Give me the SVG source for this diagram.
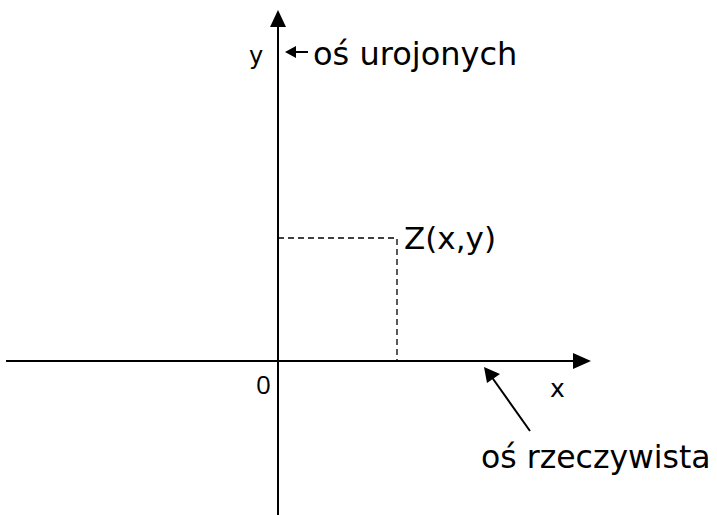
<svg xmlns="http://www.w3.org/2000/svg" width="717" height="515" viewBox="0 0 717 515">
<style>
.ax{stroke:#000;stroke-width:2;fill:none}
.dash{stroke:#000;stroke-width:1.3;fill:none;stroke-dasharray:6,4}
.t{font-family:"DejaVu Sans",Verdana,sans-serif;fill:#000}
.c{font-family:"Open Sans","Liberation Sans",sans-serif;fill:#000}
</style>
<rect width="717" height="515" fill="#fff"/>
<g id="connectors">
<line class="ax" x1="278" y1="515" x2="278" y2="26"/>
<polygon points="278,10 270,27 286,27" fill="#000"/>
<line class="ax" x1="6" y1="361" x2="574" y2="361"/>
<polygon points="591,361 573,353 573,369" fill="#000"/>
<line class="ax" x1="308" y1="52" x2="294" y2="52" stroke-width="1.8"/>
<polygon points="285,52 296,46 296,58" fill="#000"/>
<line class="ax" x1="530" y1="431" x2="491" y2="376" stroke-width="1.6"/>
<polygon points="484,367 487,383 500,374" fill="#000"/>
<path class="dash" d="M278,238 H397 V361"/>
</g>
<g id="label-y"><text class="t" x="249" y="64" font-size="24">y</text></g>
<g id="label-urojonych"><text class="t" x="313" y="65" font-size="32">oś urojonych</text></g>
<g id="label-z"><text class="t" x="404" y="249" font-size="31">Z(x,y)</text></g>
<g id="label-0"><text class="c" x="256" y="394" font-size="26">0</text></g>
<g id="label-x"><text class="t" x="550" y="397" font-size="25">x</text></g>
<g id="label-rzeczywista"><text class="t" x="481" y="468" font-size="31.5">oś rzeczywista</text></g>
</svg>
